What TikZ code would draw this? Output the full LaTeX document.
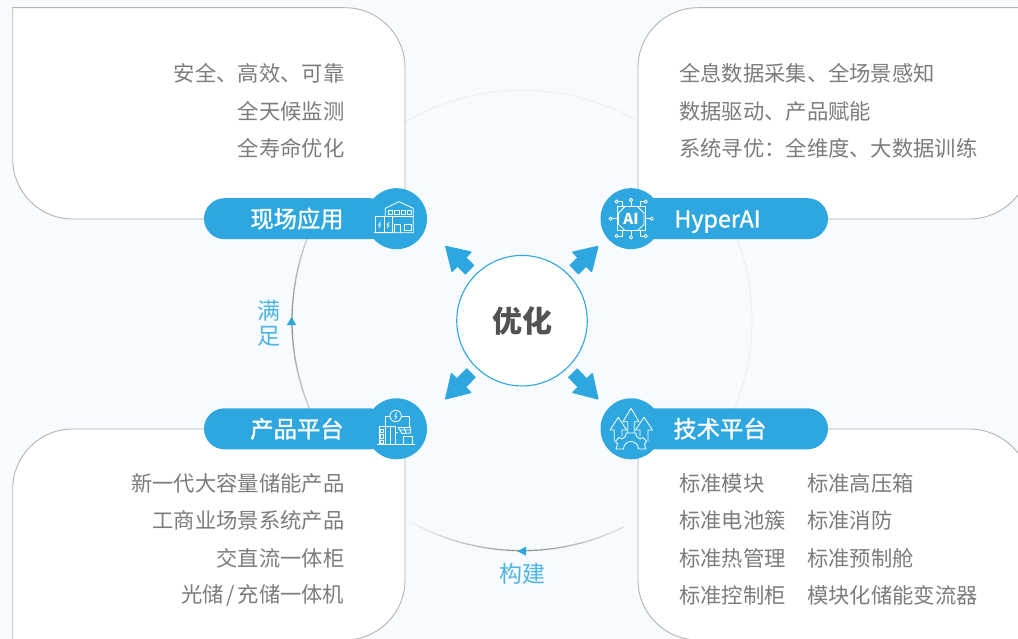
\documentclass[tikz,border=0pt]{standalone}
\usepackage{fontspec}
\setmainfont{Noto Sans CJK SC}
\newfontfamily\pillfont[FakeBold=1.2]{Noto Sans CJK SC}
\usetikzlibrary{arrows.meta}
\definecolor{pagebg}{HTML}{F7FBFE}
\definecolor{mainblue}{HTML}{2EA7E0}
\definecolor{itemgray}{HTML}{7C7C7C}
\definecolor{boxgray}{HTML}{B4B4B4}
\definecolor{arcgray}{HTML}{8E8E8E}
\definecolor{dotgray}{HTML}{DDE3E8}
\tikzset{
  infobox/.style={draw=boxgray,fill=white,line width=0.9pt},
  pillbox/.style={fill=mainblue,text=white,rounded corners=20.5pt,minimum height=41pt,inner sep=0pt,text height=21.4pt,text depth=3.8pt,font=\pillfont\fontsize{23.3pt}{24pt}\selectfont},
  iconcircle/.style={circle,fill=mainblue,minimum size=61pt,inner sep=0pt},
  itemtext/.style={text=itemgray,inner sep=0pt,font=\fontsize{21.3pt}{24pt}\selectfont},
  cycletext/.style={text=mainblue!85,inner sep=0pt,font=\fontsize{23pt}{24pt}\selectfont},
  iconline/.style={draw=white,line width=0.8pt,line join=round},
  bigarrow/.style={draw=mainblue,line width=13pt,shorten <=72.6pt,-{Triangle[length=24pt,width=29pt,round,line width=1.5pt]}},
  dotarc/.style={draw=dotgray,line width=0.9pt,dash pattern=on 1.2pt off 1.5pt}
}
% start angle, end angle, peak angle, fade per degree
\newcommand{\fadearc}[4]{%
  \foreach \n in {0,...,39}{%
    \pgfmathsetmacro\angA{#1+\n*(#2-#1)/40}%
    \pgfmathsetmacro\angB{#1+(\n+1.3)*(#2-#1)/40}%
    \pgfmathsetmacro\mixp{max(0,100-abs(\angA-#3)*#4)}%
    \draw[line width=1.2pt,draw=arcgray!\mixp!pagebg] ([shift={(\angA:230)}]522,320.7) arc[start angle=\angA,end angle=\angB,radius=230];
  }%
}
\begin{document}
\begin{tikzpicture}[x=1pt,y=-1pt]
\useasboundingbox (0,0) rectangle (1018,639);
\clip (0,0) rectangle (1018,639);
\fill[pagebg] (0,0) rectangle (1018,639);

% cycle ring
\draw[dotarc] ([shift={(238:230.5)}]522,320.7) arc[start angle=238,end angle=302,radius=230.5];
\draw[dotarc] ([shift={(-22:230)}]522,320.7) arc[start angle=-22,end angle=23,radius=230];
\fadearc{201}{158}{180}{2.7}
\fadearc{121}{64}{90}{3.2}

% four boxes
\draw[infobox] (12.7,7.7) -- (345,7.7) arc[start angle=-90,end angle=0,radius=60] -- (405,219) -- (72.7,219) arc[start angle=90,end angle=180,radius=60] -- cycle;
\draw[infobox] (698,7.7) -- (1040,7.7) -- (1031,157) arc[start angle=0,end angle=90,radius=62] -- (638,219) -- (638,67.7) arc[start angle=180,end angle=270,radius=60] -- cycle;
\draw[infobox] (72.7,429) -- (405,429) -- (405,580) arc[start angle=0,end angle=90,radius=60] -- (12.7,640) -- (12.7,489) arc[start angle=180,end angle=270,radius=60] -- cycle;
\draw[infobox] (638,429) -- (969,429) arc[start angle=-90,end angle=0,radius=62] -- (1031,650) -- (698,640) arc[start angle=90,end angle=180,radius=60] -- cycle;

% texts of the boxes
\node[itemtext,anchor=east] (anquan) at (344.5,73) {安全、高效、可靠};
\node[itemtext,anchor=east] (jiance) at (344.5,111) {全天候监测};
\node[itemtext,anchor=east] (shouming) at (344.5,148) {全寿命优化};
\node[itemtext,anchor=west] (caiji) at (679,73) {全息数据采集、全场景感知};
\node[itemtext,anchor=west] (qudong) at (679,111) {数据驱动、产品赋能};
\node[itemtext,anchor=west] (xunyou) at (679,148) {系统寻优：全维度、大数据训练};
\node[itemtext,anchor=east] (xinyidai) at (344.5,483) {新一代大容量储能产品};
\node[itemtext,anchor=east] (gongshang) at (344.5,520.5) {工商业场景系统产品};
\node[itemtext,anchor=east] (jiaozhi) at (344.5,558) {交直流一体柜};
\node[itemtext,anchor=east] (guangchu) at (344.5,595.5) {光储\kern2.6pt/\kern2.6pt充储一体机};
\node[itemtext,anchor=west] (mokuai) at (679,483) {标准模块};
\node[itemtext,anchor=west] (dianchi) at (679,520.5) {标准电池簇};
\node[itemtext,anchor=west] (reguanli) at (679,558) {标准热管理};
\node[itemtext,anchor=west] (kongzhi) at (679,595.5) {标准控制柜};
\node[itemtext,anchor=west] (gaoya) at (807,483) {标准高压箱};
\node[itemtext,anchor=west] (xiaofang) at (807,520.5) {标准消防};
\node[itemtext,anchor=west] (yuzhi) at (807,558) {标准预制舱};
\node[itemtext,anchor=west] (bianliu) at (807,595.5) {模块化储能变流器};

% pills with their icon circles
\node[pillbox,minimum width=186pt] (yingyong) at (297,218.7) {现场应用};
\node[pillbox,minimum width=221pt] (hyperai) at (717.5,218.7) {HyperAI};
\node[pillbox,minimum width=186pt] (chanpin) at (297,428.8) {产品平台};
\node[pillbox,minimum width=216pt] (jishu) at (720,428.8) {技术平台};
\node[iconcircle] (iconA) at (396.5,218.7) {};
\node[iconcircle] (iconB) at (631,218.7) {};
\node[iconcircle] (iconC) at (396.5,428.8) {};
\node[iconcircle] (iconD) at (631,428.8) {};

% house icon
\draw[iconline] (373.7,232.7) -- (413.3,232.7) -- (413.3,208.3) -- (399,201.7) -- (385.3,208.3) -- (385.3,216.7);
\draw[iconline] (375.3,232.7) rectangle (392.7,216.7);
\draw[iconline] (384,216.7) -- (384,232.7) (392.7,216.7) -- (413.3,216.7);
\draw[iconline] (388,210) rectangle (392.3,214.3) (394.5,210) rectangle (399.5,214.3) (401.5,210) rectangle (405,214.3) (407.5,210) rectangle (411.5,214.3);
\draw[iconline] (394.3,232.7) -- (394.3,224.3) -- (400.7,224.3) -- (400.7,232.7);
\draw[iconline] (404,224.3) rectangle (411.7,230);
\draw[iconline,line width=0.7pt] (380.5,222) -- (378.5,225) -- (380.5,225) -- (378.8,228) (389,222) -- (387,225) -- (389,225) -- (387.3,228);

% AI icon
\draw[iconline] (617.7,206) rectangle (645,230.7);
\draw[iconline] (625,206.5) -- (637.5,206.5) -- (644,213) -- (644,224.5) -- (637.5,230.5) -- (625,230.5) -- (618.5,224.5) -- (618.5,213) -- cycle;
\node[text=white,inner sep=0pt,font=\fontsize{15pt}{15pt}\selectfont\bfseries] (aitext) at (631,218.5) {AI};
\foreach \cx/\cy in {631/200,610.7/218.7,651.7/218.7,631/237.3,616.7/201.7,645.7/201.7,616.7/236,645.7/236}
  \draw[iconline] (\cx,\cy) circle[radius=1.7];
\draw[iconline] (631,201.7) -- (631,206) (612.4,218.7) -- (617.7,218.7) (645,218.7) -- (650,218.7) (631,230.7) -- (631,235.6);
\draw[iconline] (618.4,201.7) -- (622,201.7) -- (622,206) (644,201.7) -- (640.5,201.7) -- (640.5,206) (618.4,236) -- (622,236) -- (622,230.7) (644,236) -- (640.5,236) -- (640.5,230.7);

% cabinet icon
\draw[iconline] (377.3,444.3) -- (415,444.3);
\draw[iconline] (379,444.3) -- (379,426.7) -- (395.7,426.7) -- (395.7,444.3);
\draw[iconline] (385,426.7) -- (385,444.3) (390,426.7) -- (390,444.3);
\draw[iconline] (380.5,429) rectangle (383.5,432.5) (380.5,434.5) rectangle (383.5,438) (380.5,440) rectangle (383.5,443);
\draw[iconline] (395.7,416) circle[radius=5.7];
\draw[iconline,line width=0.7pt] (396.5,412.5) -- (394.8,416.2) -- (396.8,416.2) -- (395,419.5);
\draw[iconline] (390,416) -- (385,416) -- (385,426.7) (401.4,416) -- (409,416) -- (409,426.7);
\draw[iconline] (398,427.5) -- (410.7,427.5) -- (410.7,433) -- (402,433.5) -- cycle (400,430) -- (410.7,430) (404,427.5) -- (406,433);
\draw[iconline] (403.3,436) rectangle (412.3,444.3);
\draw[iconline] (395.7,432) -- (398,432);

% gear icon
\draw[iconline] (614.3,441) -- (614.3,430) -- (610,430) -- (618.3,417.3) -- (626.7,430) -- (622,430) -- (622,436.5);
\draw[iconline] (648,441) -- (648,430) -- (652.5,430) -- (644,417.3) -- (635.5,430) -- (640,430) -- (640,436.5);
\draw[iconline] (627.7,433) -- (627.7,421.7) -- (623,421.7) -- (631,408.3) -- (639,421.7) -- (634.3,421.7) -- (634.3,433);
\draw[iconline] (623.5,449) -- (616,449) -- (617.5,444) -- (615.5,441.5) -- (619,437.5) -- (622,439) -- (625.5,436.5) -- (626,433) -- (636,433) -- (636.5,436.5) -- (640,439) -- (643,437.5) -- (646.5,441.5) -- (644.5,444) -- (646,449) -- (638.5,449) arc[start angle=0,end angle=-180,radius=7.5];

% center and the four arrows
\node[circle,draw=mainblue,fill=white,line width=1.1pt,minimum size=130.5pt,inner sep=0pt,text=black!68,font=\fontsize{30pt}{30pt}\selectfont\bfseries] (youhua) at (522,320.7) {优化};
\coordinate (tipA) at (445.3,246);
\coordinate (tipB) at (598.3,246);
\coordinate (tipC) at (445.3,399.3);
\coordinate (tipD) at (598.3,399.3);
\foreach \tip in {tipA,tipB,tipC,tipD}
  \draw[bigarrow] (youhua.center) -- (\tip);

% ring labels and marks
\node[cycletext] (man) at (268.5,310.5) {满};
\node[cycletext] (zu) at (268.5,336) {足};
\node[cycletext] (goujian) at (522,573.5) {构建};
\fill[mainblue] (291.5,317) -- (296.2,325) -- (286.8,325) -- cycle;
\fill[mainblue] (517.3,551.2) -- (526,546.7) -- (526,555.7) -- cycle;
\end{tikzpicture}
\end{document}
